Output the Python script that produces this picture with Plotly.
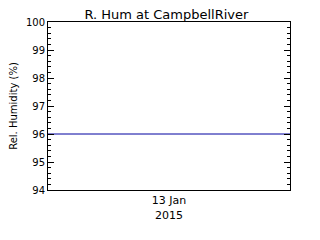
import plotly.graph_objects as go

times = ["2015-01-12 12:00", "2015-01-13 00:00", "2015-01-13 12:00"]
humidity = [96, 96, 96]
x_tick_vals = ["2015-01-13"]
x_tick_text = ["13 Jan<br>2015"]
y_ticks = [94, 95, 96, 97, 98, 99, 100]

fig = go.Figure()
fig.add_trace(go.Scatter(x=times, y=humidity, mode="lines",
                         line=dict(color="#0000a0", width=1), showlegend=False))

font = "DejaVu Sans"
fig.update_layout(
    width=320, height=240,
    margin=dict(l=48, r=30, t=22, b=50),
    paper_bgcolor="white", plot_bgcolor="white",
    title=dict(text="R. Hum at CampbellRiver", x=0.52, xanchor="center",
               y=0.94, yanchor="middle", font=dict(family=font, size=13, color="black")),
    font=dict(family=font, size=10, color="black"),
)
fig.update_xaxes(
    range=["2015-01-12 12:00", "2015-01-13 12:00"],
    tickvals=x_tick_vals, ticktext=x_tick_text, ticks="",
    showgrid=False, zeroline=False,
    showline=True, linecolor="black", linewidth=1, mirror=True,
    tickfont=dict(family=font, size=11),
)
fig.update_yaxes(
    range=[94, 100], tickvals=y_ticks,
    ticks="inside", ticklen=6, tickcolor="black", tickwidth=1,
    minor=dict(dtick=0.2, ticks="inside", ticklen=3, tickcolor="black", tickwidth=1, showgrid=False),
    showgrid=False, zeroline=False,
    showline=True, linecolor="black", linewidth=1, mirror="ticks",
    title=dict(text="Rel. Humidity (%)", font=dict(family=font, size=10), standoff=6),
    tickfont=dict(family=font, size=10),
)
fig.write_html("out.html")
